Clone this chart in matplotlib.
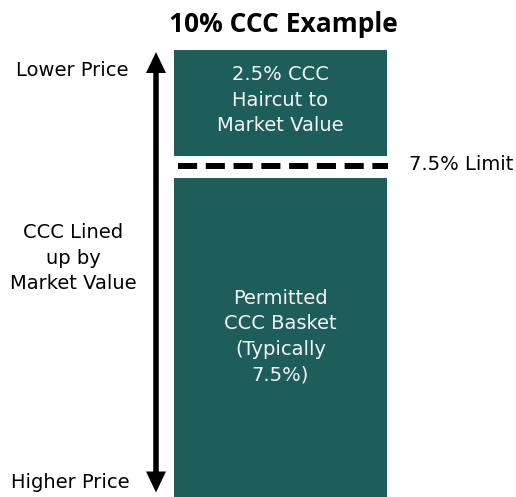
import matplotlib
matplotlib.use("Agg")
import matplotlib.pyplot as plt
from matplotlib.patches import FancyArrow

# ---- data ----
segments = ["Permitted CCC Basket", "CCC Haircut"]
values = [7.5, 2.5]          # % of portfolio
limit_value = 7.5
title = "10% CCC Example"
bar_labels = ["Permitted\nCCC Basket\n(Typically\n7.5%)", "2.5% CCC\nHaircut to\nMarket Value"]
limit_label = "7.5% Limit"
axis_top_label = "Lower Price"
axis_bottom_label = "Higher Price"
axis_mid_label = "CCC Lined\nup by\nMarket Value"

# ---- style / layout ----
W, H, DPI = 516, 497, 100
teal = "#1E5E5A"
gap = 0.52
body_font = "DejaVu Sans"
fs = 14
ls = 1.44
label_offsets = [0.02, 0.07]

fig = plt.figure(figsize=(W / DPI, H / DPI), dpi=DPI)
ax = fig.add_axes([0, 0, 1, 1])
ax.set_xlim(0, W)
ax.set_ylim(0, H / 42.5)
ax.axis("off")

bar_x, bar_w = 280.5, 213
bottom = 0
for i, v in enumerate(values):
    ax.bar(bar_x, v, width=bar_w, bottom=bottom, color=teal, linewidth=0)
    ax.text(bar_x, bottom + v / 2 + label_offsets[i], bar_labels[i],
            ha="center", va="center", color="#F4F4F4", fontsize=fs, family=body_font,
            linespacing=ls)
    bottom += v + gap

# limit dashed line in the gap
ly = limit_value + gap * 0.55
ax.plot([178, 388], [ly, ly], color="black", lw=4.3, solid_capstyle="butt",
        dash_capstyle="butt", linestyle=(0, (3.2, 1.45)))

# overlay in pixel coordinates for annotations
ov = fig.add_axes([0, 0, 1, 1])
ov.set_xlim(0, W)
ov.set_ylim(H, 0)
ov.axis("off")
ov.patch.set_alpha(0)

ov.text(283, 24, title, ha="center", va="center", fontsize=19, fontweight="bold",
        family="Open Sans")
ov.text(461, 165, limit_label, ha="center", va="center", fontsize=fs, family=body_font)
ov.text(72, 71, axis_top_label, ha="center", va="center", fontsize=fs, family=body_font)
ov.text(70, 482, axis_bottom_label, ha="center", va="center", fontsize=fs, family=body_font)
ov.text(73.5, 258, axis_mid_label, ha="center", va="center", fontsize=fs, family=body_font,
        linespacing=ls)

mid = 272
ov.add_patch(FancyArrow(156, mid, 0, 52 - mid, width=5.5, head_width=20, head_length=21,
                        length_includes_head=True, color="black", lw=0))
ov.add_patch(FancyArrow(156, mid, 0, 492.5 - mid, width=5.5, head_width=20, head_length=21,
                        length_includes_head=True, color="black", lw=0))

fig.savefig("out.png", dpi=DPI)
